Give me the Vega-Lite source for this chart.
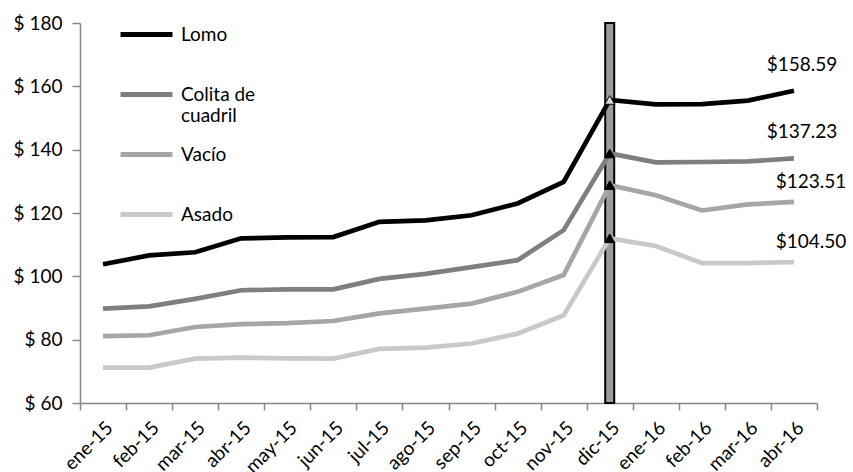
{
  "$schema": "https://vega.github.io/schema/vega-lite/v6.json",
  "width": 737,
  "height": 380,
  "autosize": "none",
  "padding": {"left": 80, "top": 23, "right": 36, "bottom": 69},
  "background": "white",
  "config": {
    "view": {"stroke": null},
    "font": "Lato",
    "axis": {"labelFont": "Lato", "labelFontSize": 19, "labelColor": "#000", "domainColor": "#868686", "tickColor": "#868686", "domainWidth": 1.5, "tickWidth": 1.5, "grid": false, "title": null}
  },
  "datasets": {
    "prices": [
      {"month": "ene-15", "cut": "Lomo", "price": 103.8},
      {"month": "feb-15", "cut": "Lomo", "price": 106.6},
      {"month": "mar-15", "cut": "Lomo", "price": 107.6},
      {"month": "abr-15", "cut": "Lomo", "price": 112.0},
      {"month": "may-15", "cut": "Lomo", "price": 112.3},
      {"month": "jun-15", "cut": "Lomo", "price": 112.4},
      {"month": "jul-15", "cut": "Lomo", "price": 117.2},
      {"month": "ago-15", "cut": "Lomo", "price": 117.7},
      {"month": "sep-15", "cut": "Lomo", "price": 119.3},
      {"month": "oct-15", "cut": "Lomo", "price": 123.0},
      {"month": "nov-15", "cut": "Lomo", "price": 129.8},
      {"month": "dic-15", "cut": "Lomo", "price": 155.7},
      {"month": "ene-16", "cut": "Lomo", "price": 154.3},
      {"month": "feb-16", "cut": "Lomo", "price": 154.4},
      {"month": "mar-16", "cut": "Lomo", "price": 155.5},
      {"month": "abr-16", "cut": "Lomo", "price": 158.59},
      {"month": "ene-15", "cut": "Colita de cuadril", "price": 89.8},
      {"month": "feb-15", "cut": "Colita de cuadril", "price": 90.5},
      {"month": "mar-15", "cut": "Colita de cuadril", "price": 92.9},
      {"month": "abr-15", "cut": "Colita de cuadril", "price": 95.6},
      {"month": "may-15", "cut": "Colita de cuadril", "price": 95.9},
      {"month": "jun-15", "cut": "Colita de cuadril", "price": 95.9},
      {"month": "jul-15", "cut": "Colita de cuadril", "price": 99.2},
      {"month": "ago-15", "cut": "Colita de cuadril", "price": 100.8},
      {"month": "sep-15", "cut": "Colita de cuadril", "price": 102.9},
      {"month": "oct-15", "cut": "Colita de cuadril", "price": 105.1},
      {"month": "nov-15", "cut": "Colita de cuadril", "price": 114.6},
      {"month": "dic-15", "cut": "Colita de cuadril", "price": 138.8},
      {"month": "ene-16", "cut": "Colita de cuadril", "price": 136.0},
      {"month": "feb-16", "cut": "Colita de cuadril", "price": 136.1},
      {"month": "mar-16", "cut": "Colita de cuadril", "price": 136.3},
      {"month": "abr-16", "cut": "Colita de cuadril", "price": 137.23},
      {"month": "ene-15", "cut": "Vacío", "price": 81.1},
      {"month": "feb-15", "cut": "Vacío", "price": 81.4},
      {"month": "mar-15", "cut": "Vacío", "price": 84.0},
      {"month": "abr-15", "cut": "Vacío", "price": 84.9},
      {"month": "may-15", "cut": "Vacío", "price": 85.2},
      {"month": "jun-15", "cut": "Vacío", "price": 85.9},
      {"month": "jul-15", "cut": "Vacío", "price": 88.3},
      {"month": "ago-15", "cut": "Vacío", "price": 89.8},
      {"month": "sep-15", "cut": "Vacío", "price": 91.4},
      {"month": "oct-15", "cut": "Vacío", "price": 95.1},
      {"month": "nov-15", "cut": "Vacío", "price": 100.4},
      {"month": "dic-15", "cut": "Vacío", "price": 128.8},
      {"month": "ene-16", "cut": "Vacío", "price": 125.6},
      {"month": "feb-16", "cut": "Vacío", "price": 120.8},
      {"month": "mar-16", "cut": "Vacío", "price": 122.7},
      {"month": "abr-16", "cut": "Vacío", "price": 123.51},
      {"month": "ene-15", "cut": "Asado", "price": 71.2},
      {"month": "feb-15", "cut": "Asado", "price": 71.2},
      {"month": "mar-15", "cut": "Asado", "price": 74.0},
      {"month": "abr-15", "cut": "Asado", "price": 74.3},
      {"month": "may-15", "cut": "Asado", "price": 74.1},
      {"month": "jun-15", "cut": "Asado", "price": 74.0},
      {"month": "jul-15", "cut": "Asado", "price": 77.1},
      {"month": "ago-15", "cut": "Asado", "price": 77.5},
      {"month": "sep-15", "cut": "Asado", "price": 78.8},
      {"month": "oct-15", "cut": "Asado", "price": 81.9},
      {"month": "nov-15", "cut": "Asado", "price": 87.7},
      {"month": "dic-15", "cut": "Asado", "price": 112.0},
      {"month": "ene-16", "cut": "Asado", "price": 109.6},
      {"month": "feb-16", "cut": "Asado", "price": 104.2},
      {"month": "mar-16", "cut": "Asado", "price": 104.2},
      {"month": "abr-16", "cut": "Asado", "price": 104.5}
    ],
    "marker": [{"month": "dic-15"}]
  },
  "encoding": {
    "x": {
      "field": "month", "type": "ordinal", "sort": null,
      "scale": {"domain": ["ene-15","feb-15","mar-15","abr-15","may-15","jun-15","jul-15","ago-15","sep-15","oct-15","nov-15","dic-15","ene-16","feb-16","mar-16","abr-16"], "paddingInner": 0, "paddingOuter": 0},
      "axis": {"labelAngle": -45, "tickBand": "extent", "tickSize": 7, "labelPadding": 8, "domain": true}
    }
  },
  "layer": [
    {
      "data": {"name": "marker"},
      "mark": {"type": "bar", "width": 9, "fill": "#9c9c9c", "stroke": "#000", "strokeWidth": 2},
      "encoding": {
        "y": {"datum": 180, "type": "quantitative", "scale": {"domain": [60, 180], "nice": false, "zero": false}, "axis": {"values": [60, 80, 100, 120, 140, 160, 180], "labelExpr": "'$ ' + datum.value", "tickSize": 8, "labelPadding": 10}},
        "y2": {"datum": 60}
      }
    },
    {
      "data": {"name": "prices"},
      "mark": {"type": "line", "strokeWidth": 4.7, "strokeJoin": "miter"},
      "encoding": {
        "y": {"field": "price", "type": "quantitative"},
        "color": {
          "field": "cut", "type": "nominal", "sort": ["Lomo", "Colita de cuadril", "Vacío", "Asado"],
          "scale": {"domain": ["Lomo", "Colita de cuadril", "Vacío", "Asado"], "range": ["#000000", "#7f7f7f", "#a6a6a6", "#c9c9c9"]},
          "legend": {
            "title": null, "orient": "none", "legendX": 38, "legendY": -17,
            "symbolType": "stroke", "symbolSize": 2700, "symbolStrokeWidth": 5,
            "labelFont": "Lato", "labelFontSize": 19, "labelColor": "#000", "labelOffset": 6, "labelLimit": 200,
            "labelBaseline": "middle",
            "gridAlign": "all",
            "rowPadding": -6,
            "labelExpr": "datum.label == 'Colita de cuadril' ? ['Colita de', 'cuadril'] : datum.label"
          }
        },
        "detail": {"field": "cut"}
      }
    },
    {
      "data": {"name": "prices"},
      "transform": [{"filter": "datum.month == 'dic-15'"}],
      "mark": {"type": "point", "shape": "triangle-up", "filled": true, "size": 100, "stroke": "#000", "strokeWidth": 1, "opacity": 1},
      "encoding": {
        "y": {"field": "price", "type": "quantitative"},
        "fill": {"condition": {"test": "datum.cut == 'Lomo'", "value": "#d9d9d9"}, "value": "#000000"}
      }
    },
    {
      "data": {"name": "prices"},
      "transform": [{"filter": "datum.month == 'abr-16' && (datum.cut == 'Lomo' || datum.cut == 'Colita de cuadril')"}],
      "mark": {"type": "text", "font": "Lato", "fontSize": 19, "dx": 8, "dy": -26, "color": "#000"},
      "encoding": {
        "y": {"field": "price", "type": "quantitative"},
        "text": {"field": "price", "type": "quantitative", "format": "$.2f"}
      }
    },
    {
      "data": {"name": "prices"},
      "transform": [{"filter": "datum.month == 'abr-16' && (datum.cut == 'Vacío' || datum.cut == 'Asado')"}],
      "mark": {"type": "text", "font": "Lato", "fontSize": 19, "dx": 17, "dy": -20, "color": "#000"},
      "encoding": {
        "y": {"field": "price", "type": "quantitative"},
        "text": {"field": "price", "type": "quantitative", "format": "$.2f"}
      }
    }
  ]
}
